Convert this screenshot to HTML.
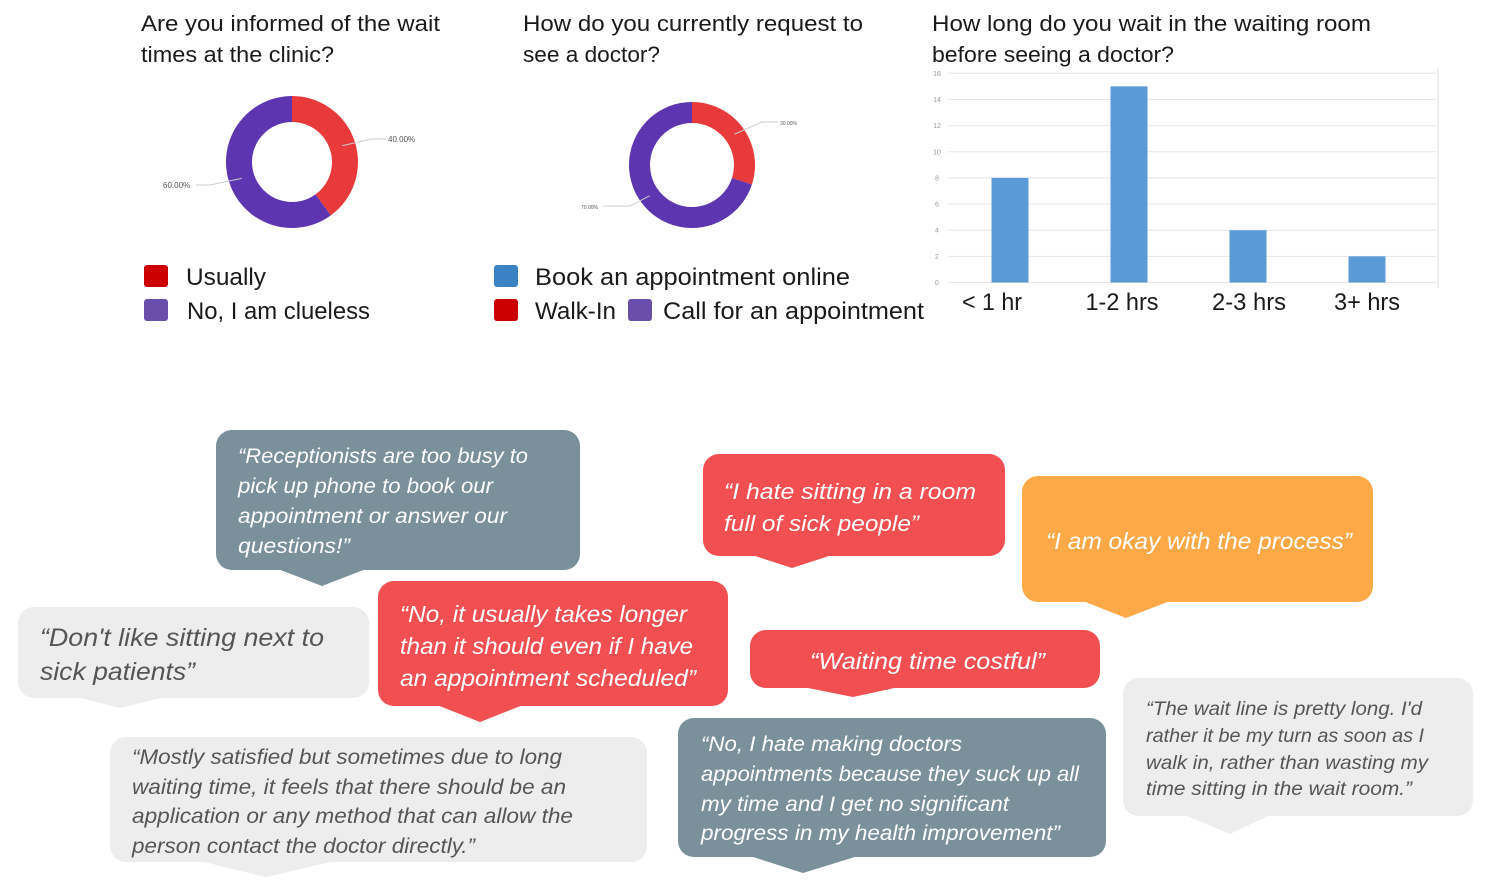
<!DOCTYPE html>
<html><head><meta charset="utf-8"><style>
html,body{margin:0;padding:0;background:#fff;}
svg{display:block;font-family:"Liberation Sans",sans-serif;}
</style></head><body>
<svg id="root" width="1502" height="886" viewBox="0 0 1502 886" xmlns="http://www.w3.org/2000/svg">
<g fill="#1a1a1a" font-size="22">
<text x="141" y="31" textLength="299" lengthAdjust="spacingAndGlyphs">Are you informed of the wait</text>
<text x="141" y="62" textLength="193" lengthAdjust="spacingAndGlyphs">times at the clinic?</text>
<text x="523" y="31" textLength="340" lengthAdjust="spacingAndGlyphs">How do you currently request to</text>
<text x="523" y="62" textLength="137" lengthAdjust="spacingAndGlyphs">see a doctor?</text>
<text x="932" y="31" textLength="439" lengthAdjust="spacingAndGlyphs">How long do you wait in the waiting room</text>
<text x="932" y="62" textLength="242" lengthAdjust="spacingAndGlyphs">before seeing a doctor?</text>
</g>
<g id="donuts"></g>
<g font-size="24" fill="#1a1a1a">
<rect x="144" y="265" width="24" height="22" rx="3" fill="#cc0000"/>
<text x="186" y="285" textLength="80" lengthAdjust="spacingAndGlyphs">Usually</text>
<rect x="144" y="299" width="24" height="22" rx="3" fill="#6a4faa"/>
<text x="187" y="319" textLength="183" lengthAdjust="spacingAndGlyphs">No, I am clueless</text>
<rect x="494" y="265" width="24" height="22" rx="3" fill="#3b82c4"/>
<text x="535" y="285" textLength="315" lengthAdjust="spacingAndGlyphs">Book an appointment online</text>
<rect x="494" y="299" width="24" height="22" rx="3" fill="#cc0000"/>
<text x="535" y="319" textLength="81" lengthAdjust="spacingAndGlyphs">Walk-In</text>
<rect x="628" y="299" width="24" height="22" rx="3" fill="#6a4faa"/>
<text x="663" y="319" textLength="261" lengthAdjust="spacingAndGlyphs">Call for an appointment</text>
</g>
<g id="bars"></g>
<g id="bubbles"></g>
</svg>
<script>
const NS="http://www.w3.org/2000/svg";
function mk(tag,attrs,parent){const e=document.createElementNS(NS,tag);for(const k in attrs)e.setAttribute(k,attrs[k]);parent.appendChild(e);return e;}

// donut data
const donut1Labels=["Usually","No, I am clueless"];
const donut1Values=[40,60];
const donut2Labels=["Walk-In","Call for an appointment"];
const donut2Values=[30,70];
const donutColors=["#e83a3a","#5e35b1"];

const dg=document.getElementById('donuts');
function donut(cx,cy,ro,ri,vals,labels,lblPos,fs){
  const tot=vals.reduce((a,b)=>a+b,0);let a0=-Math.PI/2;
  vals.forEach((v,i)=>{
    const a1=a0+v/tot*2*Math.PI;const lg=(a1-a0)>Math.PI?1:0;
    const p=(r,a)=>[cx+r*Math.cos(a),cy+r*Math.sin(a)];
    const [x0,y0]=p(ro,a0),[x1,y1]=p(ro,a1),[x2,y2]=p(ri,a1),[x3,y3]=p(ri,a0);
    const s=mk('path',{d:`M${x0},${y0}A${ro},${ro} 0 ${lg} 1 ${x1},${y1}L${x2},${y2}A${ri},${ri} 0 ${lg} 0 ${x3},${y3}Z`,fill:donutColors[i]},dg);
    
    
    const am=(a0+a1)/2;const [mx,my]=p((ro+ri)/2,am);
    const lp=lblPos[i];
    const ln=mk('polyline',{points:`${mx},${my} ${lp[2]},${lp[1]-3} ${lp[3]},${lp[1]-3}`,fill:'none',stroke:'#ccc','stroke-width':1},dg);
    
    
    const t=mk('text',{x:lp[0],y:lp[1],'font-size':fs,fill:'#555'},dg);
    t.textContent=v.toFixed(2)+'%';
    
    
    a0=a1;
  });
}
donut(292,162,66,40,donut1Values,donut1Labels,[[388,142,372,386],[163,188,210,196]],8);
donut(692,165,63,42,donut2Values,donut2Labels,[[780,125,762,778],[581,209,630,603]],5);

// bar chart data
const barCategories=["< 1 hr","1-2 hrs","2-3 hrs","3+ hrs"];
const barValues=[8,15,4,2];
const yTicks=[0,2,4,6,8,10,12,14,16];
const bg=document.getElementById('bars');
const y0=282.5,y1=73.3,xL=948,xR=1436,yMax=16;
const bandL=950.5,bandW=119;
const yS=v=>y0-(v/yMax)*(y0-y1);
const xC=i=>bandL+bandW*(i+0.5);
yTicks.forEach(t=>{
  const l=mk('line',{x1:xL,x2:xR,y1:yS(t),y2:yS(t),stroke:'#e6e6e6','stroke-width':1},bg);
  
  
  const tx=mk('text',{x:937,y:yS(t)+2.5,'font-size':7,fill:'#999','text-anchor':'middle'},bg);
  tx.textContent=t;
  
  
});
const edge=mk('line',{x1:1438,x2:1438,y1:68,y2:288,stroke:'#f0f0f0','stroke-width':2},bg);


const labelLen=[60,73,74,66];
const labelShift=[-18,-7,1,0];
barCategories.forEach((c,i)=>{
  const r=mk('rect',{x:xC(i)-18.5,y:yS(barValues[i]),width:37,height:y0-yS(barValues[i]),fill:'#5b9bd5'},bg);
  
  
  const t=mk('text',{x:xC(i)+labelShift[i],y:310,'font-size':24,fill:'#1a1a1a','text-anchor':'middle',textLength:labelLen[i],lengthAdjust:'spacingAndGlyphs'},bg);
  t.textContent=c;
  
  
});

// bubbles
const bub=document.getElementById('bubbles');
const B=[
 {n:'quote-receptionists',x:216,y:430,w:364,h:140,c:'#7a909b',tc:'#fff',fs:21,tail:[278,366,322,586],lines:[[238,463,290,'“Receptionists are too busy to'],[238,493,255,'pick up phone to book our'],[238,523,269,'appointment or answer our'],[238,553,112,'questions!”']]},
 {n:'quote-sick-room',x:703,y:454,w:302,h:102,c:'#f24f52',tc:'#fff',fs:22,tail:[752,832,792,568],lines:[[724,499,252,'“I hate sitting in a room'],[724,531,195,'full of sick people”']]},
 {n:'quote-okay',x:1022,y:476,w:351,h:126,c:'#fda948',tc:'#fff',fs:23,tail:[1083,1170,1126,618],lines:[[1046,549,306,'“I am okay with the process”']]},
 {n:'quote-sitting-next',x:18,y:607,w:351,h:91,c:'#ededed',tc:'#555',fs:25,tail:[77,165,120,708],lines:[[40,646,284,'“Don\'t like sitting next to'],[40,680,155,'sick patients”']]},
 {n:'quote-takes-longer',x:378,y:581,w:350,h:125,c:'#f24f52',tc:'#fff',fs:23,tail:[437,523,480,722],lines:[[400,622,287,'“No, it usually takes longer'],[400,654,293,'than it should even if I have'],[400,686,296,'an appointment scheduled”']]},
 {n:'quote-costful',x:750,y:630,w:350,h:58,c:'#f24f52',tc:'#fff',fs:23,tail:[803,899,853,697],lines:[[810,669,235,'“Waiting time costful”']]},
 {n:'quote-wait-line',x:1123,y:678,w:350,h:138,c:'#ededed',tc:'#555',fs:19,tail:[1185,1270,1230,834],lines:[[1146,715,276,'“The wait line is pretty long. I\'d'],[1146,742,278,'rather it be my turn as soon as I'],[1146,769,282,'walk in, rather than wasting my'],[1146,795,266,'time sitting in the wait room.”']]},
 {n:'quote-mostly-satisfied',x:110,y:737,w:537,h:125,c:'#ededed',tc:'#555',fs:21,tail:[200,335,266,877],lines:[[132,764,430,'“Mostly satisfied but sometimes due to long'],[132,794,434,'waiting time, it feels that there should be an'],[132,823,441,'application or any method that can allow the'],[132,853,343,'person contact the doctor directly.”']]},
 {n:'quote-hate-appointments',x:678,y:718,w:428,h:139,c:'#7a909b',tc:'#fff',fs:21,tail:[750,858,803,873],lines:[[701,751,261,'“No, I hate making doctors'],[701,781,378,'appointments because they suck up all'],[701,811,308,'my time and I get no significant'],[701,840,359,'progress in my health improvement”']]}
];
B.forEach(b=>{
  const g=mk('g',{},bub);
  
  
  mk('rect',{x:b.x,y:b.y,width:b.w,height:b.h,rx:16,fill:b.c},g);
  const by=b.y+b.h-1;
  mk('polygon',{points:`${b.tail[0]},${by} ${b.tail[1]},${by} ${b.tail[2]},${b.tail[3]}`,fill:b.c},g);
  b.lines.forEach(l=>{
    const t=mk('text',{x:l[0],y:l[1],'font-size':b.fs,'font-style':'italic',fill:b.tc,textLength:l[2],lengthAdjust:'spacingAndGlyphs'},g);
    t.textContent=l[3];
    
    
  });
});
</script>
</body></html>
